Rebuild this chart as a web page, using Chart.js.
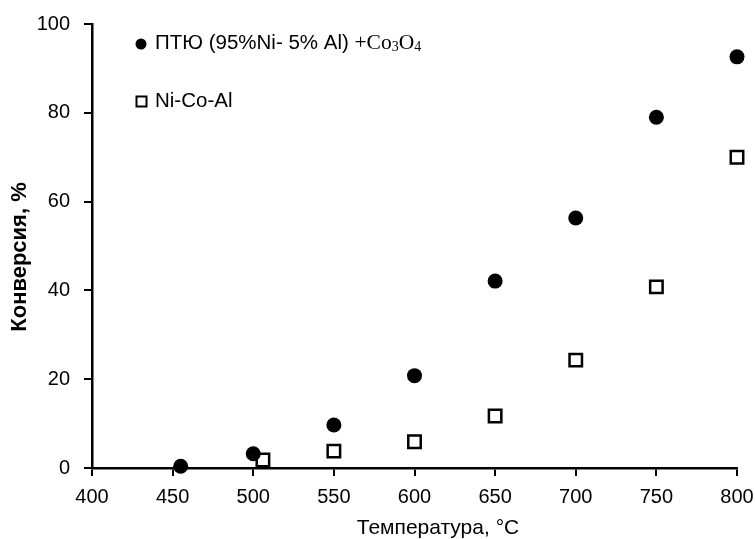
<!DOCTYPE html>
<html>
<head>
<meta charset="utf-8">
<script src="https://cdn.jsdelivr.net/npm/chart.js@4.4.0/dist/chart.umd.min.js"></script>
<style>
  html, body { margin: 0; padding: 0; background: #fff; }
  canvas { display: block; }
</style>
</head>
<body>
<canvas id="c" width="755" height="539"></canvas>
<script>
// ---- data ----
const circleT    = [455, 500, 550, 600, 650, 700, 750, 800];
const circleConv = [0.4, 3.2, 9.7, 20.8, 42.1, 56.3, 79.0, 92.6];
const squareT    = [506, 550, 600, 650, 700, 750, 800];
const squareConv = [1.8, 3.8, 5.9, 11.7, 24.3, 40.8, 70.0];

const xTickValues = [400, 450, 500, 550, 600, 650, 700, 750, 800];
const yTickValues = [0, 20, 40, 60, 80, 100];

const seriesLabel1 = 'ПТЮ (95%Ni- 5% Al) +Co₃O₄';
const seriesLabel2 = 'Ni-Co-Al';
const xTitle = 'Температура, °С';
const yTitle = 'Конверсия, %';

const toPoints = (xs, ys) => xs.map((x, i) => ({ x: x, y: ys[i] }));

const SANS = '"Liberation Sans", Arial, sans-serif';
const SERIF = '"Liberation Serif", "Times New Roman", serif';

const overlayPlugin = {
  id: 'overlay',
  afterDraw(chart) {
    const ctx = chart.ctx;
    const a = chart.chartArea;
    ctx.save();
    ctx.fillStyle = '#000';
    ctx.strokeStyle = '#000';

    // ---- legend ----
    ctx.beginPath();
    ctx.arc(a.left + 49, a.top + 20, 5.5, 0, Math.PI * 2);
    ctx.fill();
    ctx.textBaseline = 'middle';
    ctx.textAlign = 'left';
    ctx.font = '20.5px ' + SANS;
    const main = 'ПТЮ (95%Ni- 5% Al) ';
    let x = a.left + 63;
    const y1 = a.top + 19;
    ctx.fillText(main, x, y1);
    x += ctx.measureText(main).width;
    const parts = [['+Co', false], ['3', true], ['O', false], ['4', true]];
    parts.forEach(([t, sub]) => {
      ctx.font = (sub ? '14px ' : '21.5px ') + SERIF;
      ctx.fillText(t, x, sub ? y1 + 4 : y1);
      x += ctx.measureText(t).width;
    });

    ctx.lineWidth = 2;
    ctx.strokeRect(a.left + 44.5, a.top + 72.5, 10, 10);
    ctx.font = '20.5px ' + SANS;
    ctx.fillText(seriesLabel2, a.left + 63, a.top + 77);

    // ---- axis titles ----
    ctx.textAlign = 'center';
    ctx.font = '21px ' + SANS;
    ctx.fillText(xTitle, 438, 528);

    ctx.font = 'bold 22px ' + SANS;
    ctx.translate(20, 257);
    ctx.rotate(-Math.PI / 2);
    ctx.fillText(yTitle, 0, 0);
    ctx.restore();
  }
};

new Chart(document.getElementById('c'), {
  type: 'scatter',
  data: {
    datasets: [
      {
        label: seriesLabel1,
        data: toPoints(circleT, circleConv),
        pointStyle: 'circle',
        pointRadius: 7.5,
        pointHoverRadius: 7.5,
        backgroundColor: '#000',
        borderColor: '#000',
        borderWidth: 0,
        clip: false
      },
      {
        label: seriesLabel2,
        data: toPoints(squareT, squareConv),
        pointStyle: 'rect',
        pointRadius: 8.8,
        pointHoverRadius: 8.8,
        backgroundColor: '#fff',
        borderColor: '#000',
        borderWidth: 2.5,
        clip: false
      }
    ]
  },
  options: {
    responsive: false,
    animation: false,
    events: [],
    layout: { padding: { top: 24, right: 18, left: 0, bottom: 0 } },
    plugins: {
      legend: { display: false },
      tooltip: { enabled: false }
    },
    scales: {
      x: {
        type: 'linear',
        min: 400,
        max: 800,
        afterBuildTicks: s => { s.ticks = xTickValues.map(v => ({ value: v })); },
        afterFit: s => { s.height = 71; s.paddingLeft = 0; s.paddingRight = 0; },
        grid: { drawOnChartArea: false, drawTicks: true, tickLength: 8, color: '#000', lineWidth: 2 },
        border: { display: true, color: '#000', width: 2.5 },
        ticks: { color: '#000', font: { family: SANS, size: 20 }, padding: 9, maxRotation: 0 },
        title: { display: false, text: xTitle }
      },
      y: {
        type: 'linear',
        min: 0,
        max: 100,
        afterBuildTicks: s => { s.ticks = yTickValues.map(v => ({ value: v })); },
        afterFit: s => { s.width = 92; s.paddingTop = 0; s.paddingBottom = 0; },
        grid: { drawOnChartArea: false, drawTicks: true, tickLength: 8, color: '#000', lineWidth: 2 },
        border: { display: true, color: '#000', width: 2.5 },
        ticks: { color: '#000', font: { family: SANS, size: 20 }, padding: 14 },
        title: { display: false, text: yTitle }
      }
    }
  },
  plugins: [overlayPlugin]
});
</script>
</body>
</html>
